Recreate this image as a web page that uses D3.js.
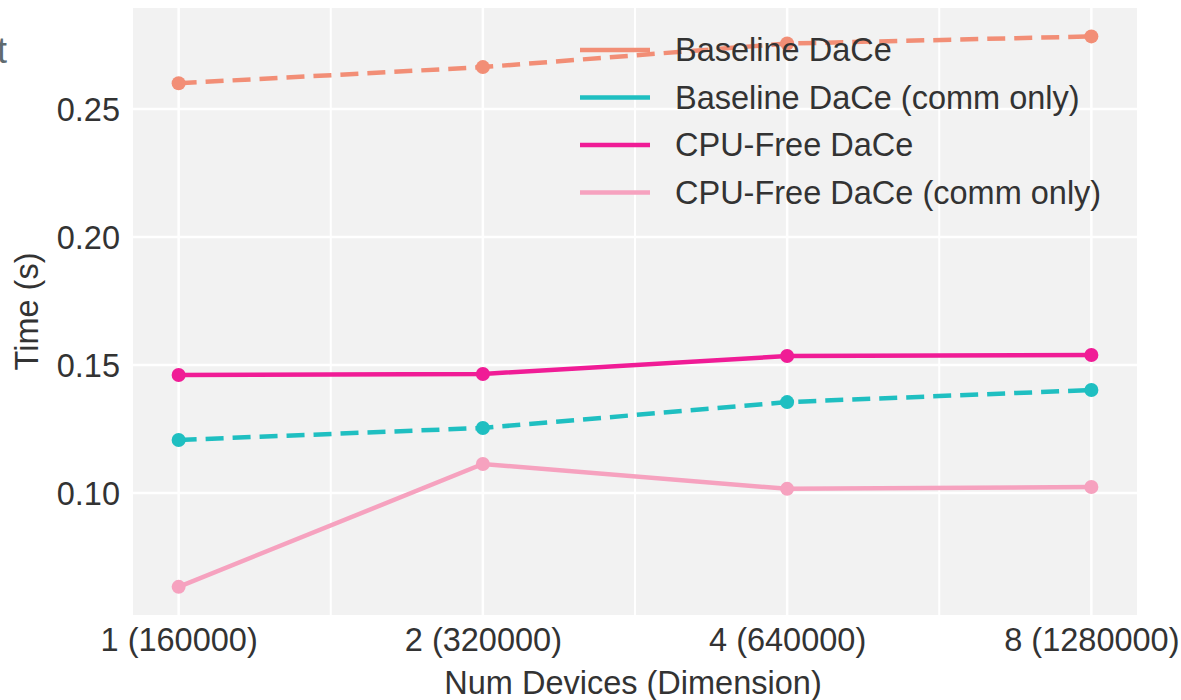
<!DOCTYPE html>
<html>
<head>
<meta charset="utf-8">
<script src="https://cdn.jsdelivr.net/npm/d3@7"></script>
<style>
  body { margin: 0; background: #fff; }
  svg { font-family: "Liberation Sans", Arial, sans-serif; }
  .tick text { fill: #333; }
</style>
</head>
<body>
<div id="canvas"></div>
<script>
// data
var devices = ['1 (160000)', '2 (320000)', '4 (640000)', '8 (1280000)'];
var baseline = [0.2601, 0.2664, 0.2756, 0.2784];
var baselineComm = [0.1207, 0.1254, 0.1355, 0.1402];
var cpuFree = [0.1461, 0.1465, 0.1535, 0.1539];
var cpuFreeComm = [0.0633, 0.1113, 0.1016, 0.1023];
var yTicks = [0.10, 0.15, 0.20, 0.25];

var series = [
  {name: 'Baseline DaCe', values: baseline, color: '#f28e76', dash: '18,9'},
  {name: 'Baseline DaCe (comm only)', values: baselineComm, color: '#1fbfc1', dash: '18,9'},
  {name: 'CPU-Free DaCe', values: cpuFree, color: '#f01c96', dash: null},
  {name: 'CPU-Free DaCe (comm only)', values: cpuFreeComm, color: '#f6a2bf', dash: null}
];

var W = 1181, H = 700;
var m = {t: 8, r: 44, b: 85, l: 133},
    w = W - m.l - m.r,
    h = H - m.t - m.b;
var fs = '32.5px';

var svg = d3.select('#canvas').append('svg')
    .attr('width', W)
    .attr('height', H);

// clipped glyph from the neighbouring panel
svg.append('text')
    .attr('x', 7).attr('y', 63)
    .attr('text-anchor', 'end')
    .style('font-size', '36px')
    .style('fill', '#5f6b70')
    .text('t');

var plot = svg.append('g')
    .attr('transform', 'translate(' + m.l + ',' + m.t + ')');

var x = d3.scalePoint().domain(devices).range([0, w]).padding(0.15);
var y = d3.scaleLinear().domain([0.0523, 0.2895]).range([h, 0]);

plot.append('rect')
    .attr('width', w).attr('height', h)
    .attr('fill', '#f2f2f2');

// grid
var mids = devices.slice(1).map(function(d, i) {
  return (x(d) + x(devices[i])) / 2;
});
plot.selectAll('.minor').data(mids).enter().append('line')
    .attr('x1', function(d) { return d; }).attr('x2', function(d) { return d; })
    .attr('y1', 0).attr('y2', h)
    .attr('stroke', '#fff').attr('stroke-width', 2);
plot.selectAll('.vgrid').data(devices).enter().append('line')
    .attr('x1', function(d) { return x(d); }).attr('x2', function(d) { return x(d); })
    .attr('y1', 0).attr('y2', h)
    .attr('stroke', '#fff').attr('stroke-width', 2.5);
plot.selectAll('.hgrid').data(yTicks).enter().append('line')
    .attr('x1', 0).attr('x2', w)
    .attr('y1', function(d) { return y(d); }).attr('y2', function(d) { return y(d); })
    .attr('stroke', '#fff').attr('stroke-width', 2.5);

// axes
var axisX = d3.axisBottom(x).tickSize(0).tickPadding(13);
var axisY = d3.axisLeft(y).tickValues(yTicks).tickFormat(d3.format('.2f')).tickSize(0).tickPadding(13);

var gx = plot.append('g').attr('transform', 'translate(0,' + h + ')').call(axisX);
var gy = plot.append('g').call(axisY);
gx.selectAll('text').style('font-size', fs);
gy.selectAll('text').style('font-size', fs).attr('dy', '0.35em');
gx.select('.domain').remove();
gy.select('.domain').remove();

svg.append('text')
    .attr('x', m.l + w / 2 - 2).attr('y', 694)
    .attr('text-anchor', 'middle')
    .style('font-size', fs).style('fill', '#333')
    .text('Num Devices (Dimension)');
svg.append('text')
    .attr('transform', 'translate(38,' + (m.t + h / 2) + ') rotate(-90)')
    .attr('text-anchor', 'middle')
    .style('font-size', fs).style('fill', '#333')
    .text('Time (s)');

// lines
var line = d3.line()
    .x(function(d, i) { return x(devices[i]); })
    .y(function(d) { return y(d); });

series.forEach(function(s) {
  plot.append('path')
      .datum(s.values)
      .attr('d', line)
      .attr('fill', 'none')
      .attr('stroke', s.color)
      .attr('stroke-width', 4.5)
      .attr('stroke-dasharray', s.dash);
  plot.selectAll(null).data(s.values).enter().append('circle')
      .attr('cx', function(d, i) { return x(devices[i]); })
      .attr('cy', function(d) { return y(d); })
      .attr('r', 7)
      .attr('fill', s.color);
});

// legend
var legend = svg.append('g').attr('transform', 'translate(580,50)');
var item = legend.selectAll('g').data(series).enter().append('g')
    .attr('transform', function(d, i) { return 'translate(0,' + (i * 47.5) + ')'; });
item.append('line')
    .attr('x1', 0).attr('x2', 70)
    .attr('stroke', function(d) { return d.color; })
    .attr('stroke-width', 4.5);
item.append('text')
    .attr('x', 95).attr('dy', '0.35em')
    .style('font-size', fs).style('fill', '#333')
    .text(function(d) { return d.name; });
</script>
</body>
</html>
